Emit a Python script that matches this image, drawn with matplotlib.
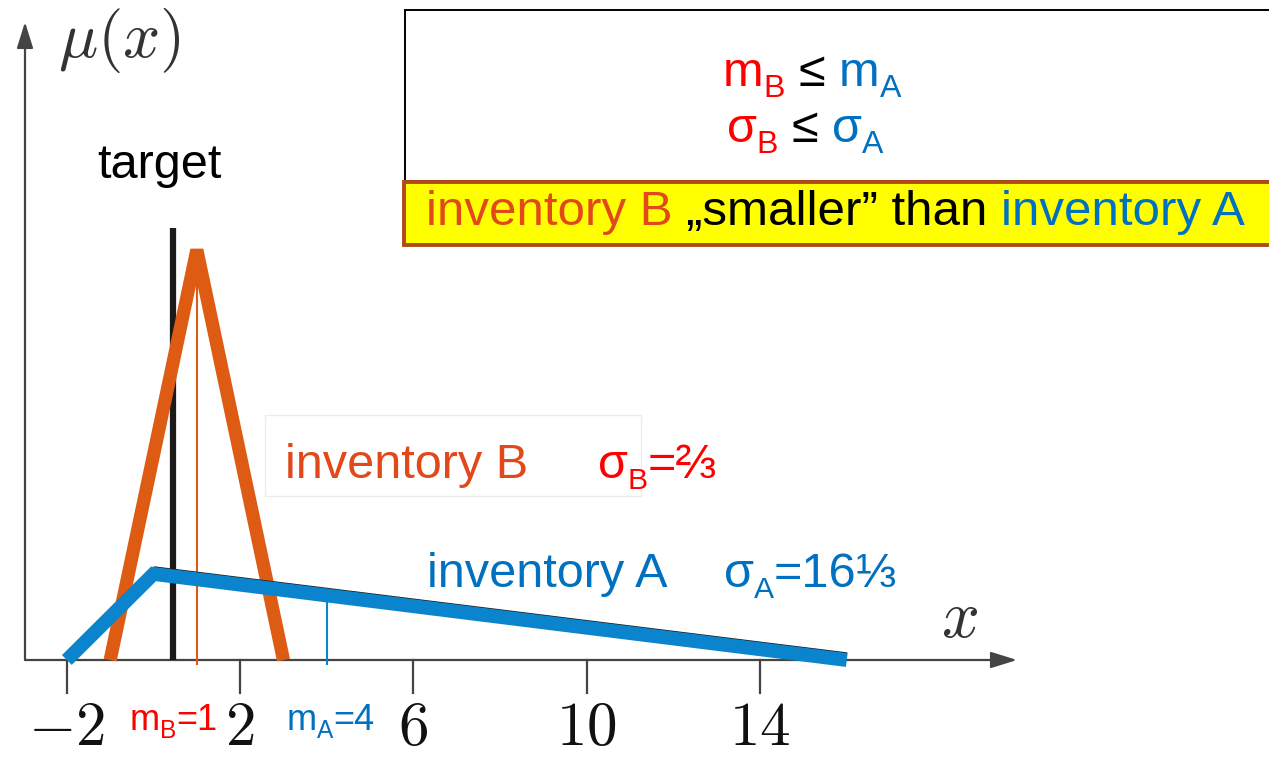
import matplotlib
matplotlib.use("Agg")
import numpy as np
import matplotlib.pyplot as plt
import matplotlib.transforms as mtransforms
from matplotlib.patches import Rectangle

plt.rcParams["mathtext.fontset"] = "cm"

# ---- data -------------------------------------------------------------
ticks = [-2, 2, 6, 10, 14]
tick_labels = ["$-2$", "$2$", "$6$", "$10$", "$14$"]

inv_a_x = [-2, 0, 16]          # triangular membership of inventory A
inv_a_mu = [0, 0.105, 0]
inv_b_x = [-1, 1, 3]           # triangular membership of inventory B
inv_b_mu = [0, 0.5, 0]
mean_a = 4
mean_b = 1
target_x = 0.45

# ---- colours / fonts ---------------------------------------------------
BLUE_LINE = "#0A84CC"
BLUE_TXT = "#0070C0"
ORANGE_LINE = "#DE5B14"
ORANGE_TXT = "#E2491A"
RED = "#FF0000"
BLACK = "#000000"
AXIS = "#444444"
SANS = ["Liberation Sans", "DejaVu Sans"]

W, H, DPI = 1269, 761, 100
X0_PX, PX_PER_X = 153.5, 43.33     # pixel column of x=0, pixels per unit
Y0_PX, PX_PER_Y = 660.0, 820.0     # pixel row of mu=0, pixels per unit

fig = plt.figure(figsize=(W / DPI, H / DPI), dpi=DPI)
fig.patch.set_facecolor("white")
ax = fig.add_axes([0, 0, 1, 1])
ax.set_axis_off()
ax.set_xlim(-X0_PX / PX_PER_X, (W - X0_PX) / PX_PER_X)
ax.set_ylim(-(H - Y0_PX) / PX_PER_Y, Y0_PX / PX_PER_Y)

# pixel coordinates measured from the top-left corner
PIX = mtransforms.Affine2D().scale(1, -1).translate(0, H)


def px2x(px):
    return (px - X0_PX) / PX_PER_X


def px2y(py):
    return (Y0_PX - py) / PX_PER_Y


# ---- axes with arrows --------------------------------------------------
arrow = dict(arrowstyle="-|>,head_length=1.6,head_width=0.5", color=AXIS,
             lw=1.6, shrinkA=0, shrinkB=0, mutation_scale=10)
ax.annotate("", xy=(px2x(1017), 0), xytext=(px2x(25), 0), arrowprops=arrow,
            zorder=1)
ax.annotate("", xy=(px2x(25), px2y(22)), xytext=(px2x(25), 0),
            arrowprops=arrow, zorder=1)

tick_len = 33 / PX_PER_Y
for t, lab in zip(ticks, tick_labels):
    ax.plot([t, t], [0, -tick_len], color=AXIS, lw=1.6, zorder=1)
    ax.text(t, px2y(745), lab, fontsize=44, ha="center", va="baseline",
            color="#111111")

ax.text(58, 57, r"$\mu(x)$", transform=PIX, fontsize=47, ha="left",
        va="baseline", color="#333333")
ax.text(941, 637, r"$x$", transform=PIX, fontsize=48, ha="left",
        va="baseline", color="#333333")

# ---- target, means and memberships --------------------------------------
ax.plot([target_x, target_x], [0, px2y(228)], color="#1c1a18", lw=4.5,
        solid_capstyle="butt", zorder=2)

ax.plot([mean_b, mean_b], [-4 / PX_PER_Y, np.interp(mean_b, inv_b_x, inv_b_mu)],
        color=ORANGE_LINE, lw=1.5, zorder=3)
ax.plot([mean_a, mean_a], [-4 / PX_PER_Y, np.interp(mean_a, inv_a_x, inv_a_mu)],
        color=BLUE_LINE, lw=1.5, zorder=3)

ax.plot(inv_b_x, inv_b_mu, color=ORANGE_LINE, lw=9.5,
        solid_capstyle="butt", solid_joinstyle="bevel", zorder=4)

shadow = mtransforms.offset_copy(ax.transData, fig=fig, y=3.5, units="dots")
ax.plot(inv_a_x[1:], inv_a_mu[1:], color="#1a1a1a", lw=6, transform=shadow,
        solid_capstyle="butt", zorder=4.5)
ax.plot(inv_a_x, inv_a_mu, color=BLUE_LINE, lw=10, solid_capstyle="butt",
        solid_joinstyle="miter", zorder=5)


# ---- coloured text runs -------------------------------------------------
renderer = fig.canvas.get_renderer()


def rich(px, py, pieces, size, ha="left", sub_scale=0.62):
    """Draw a run of (text, colour[, 'sub']) pieces on one baseline."""
    space = 0.278 * size * DPI / 72
    items = []
    total = 0.0
    for piece in pieces:
        txt, color = piece[0], piece[1]
        sub = len(piece) > 2 and piece[2] == "sub"
        lead = (len(txt) - len(txt.lstrip(" "))) * space
        trail = (len(txt) - len(txt.rstrip(" "))) * space
        core = txt.strip(" ")
        fs = size * sub_scale if sub else size
        dy = 0.23 * size * DPI / 72 if sub else 0.0
        t = ax.text(0, 0, core, fontsize=fs, color=color, family=SANS,
                    ha="left", va="baseline", transform=PIX, zorder=10)
        w = t.get_window_extent(renderer).width
        items.append((t, total + lead, dy))
        total += lead + w + trail
    x0 = px - total / 2 if ha == "center" else px
    for t, off, dy in items:
        t.set_position((x0 + off, py + dy))


# comparison box
ax.add_patch(Rectangle((405, 10), 880, 171, transform=PIX, facecolor="white",
                       edgecolor=BLACK, lw=1.4, zorder=8))
rich(812, 86, [("m", RED), ("B", RED, "sub"), (" ≤ ", BLACK),
               ("m", BLUE_TXT), ("A", BLUE_TXT, "sub")], size=35,
     ha="center", sub_scale=0.66)
rich(805, 142, [("σ", RED), ("B", RED, "sub"), (" ≤ ", BLACK),
                ("σ", BLUE_TXT), ("A", BLUE_TXT, "sub")], size=35,
     ha="center", sub_scale=0.66)

ax.add_patch(Rectangle((404, 182), 880, 63, transform=PIX,
                       facecolor="#FFFF00", edgecolor="#B04A1A", lw=2.8,
                       zorder=8))
rich(426, 225, [("inventory B ", ORANGE_TXT), ("„smaller” than ", BLACK),
                ("inventory A", BLUE_TXT)], size=35.5)

ax.text(97, 178, "target", transform=PIX, fontsize=35, family=SANS,
        color=BLACK, ha="left", va="baseline", zorder=10)

ax.add_patch(Rectangle((265, 415), 376, 81, transform=PIX, facecolor="white",
                       edgecolor="#ececec", lw=1, zorder=6))
rich(285, 478, [("inventory B", ORANGE_TXT)], size=35)
rich(598, 478, [("σ", RED), ("B", RED, "sub"), ("=⅔", RED)], size=35)

rich(427, 587, [("inventory A", BLUE_TXT)], size=35)
rich(724, 587, [("σ", BLUE_TXT), ("A", BLUE_TXT, "sub"), ("=16⅓", BLUE_TXT)],
     size=35)

rich(130, 730, [("m", RED), ("B", RED, "sub"), ("=1", RED)], size=26,
     sub_scale=0.68)
rich(287, 730, [("m", BLUE_TXT), ("A", BLUE_TXT, "sub"), ("=4", BLUE_TXT)],
     size=26, sub_scale=0.68)

fig.savefig("out.png", dpi=DPI, facecolor="white")
